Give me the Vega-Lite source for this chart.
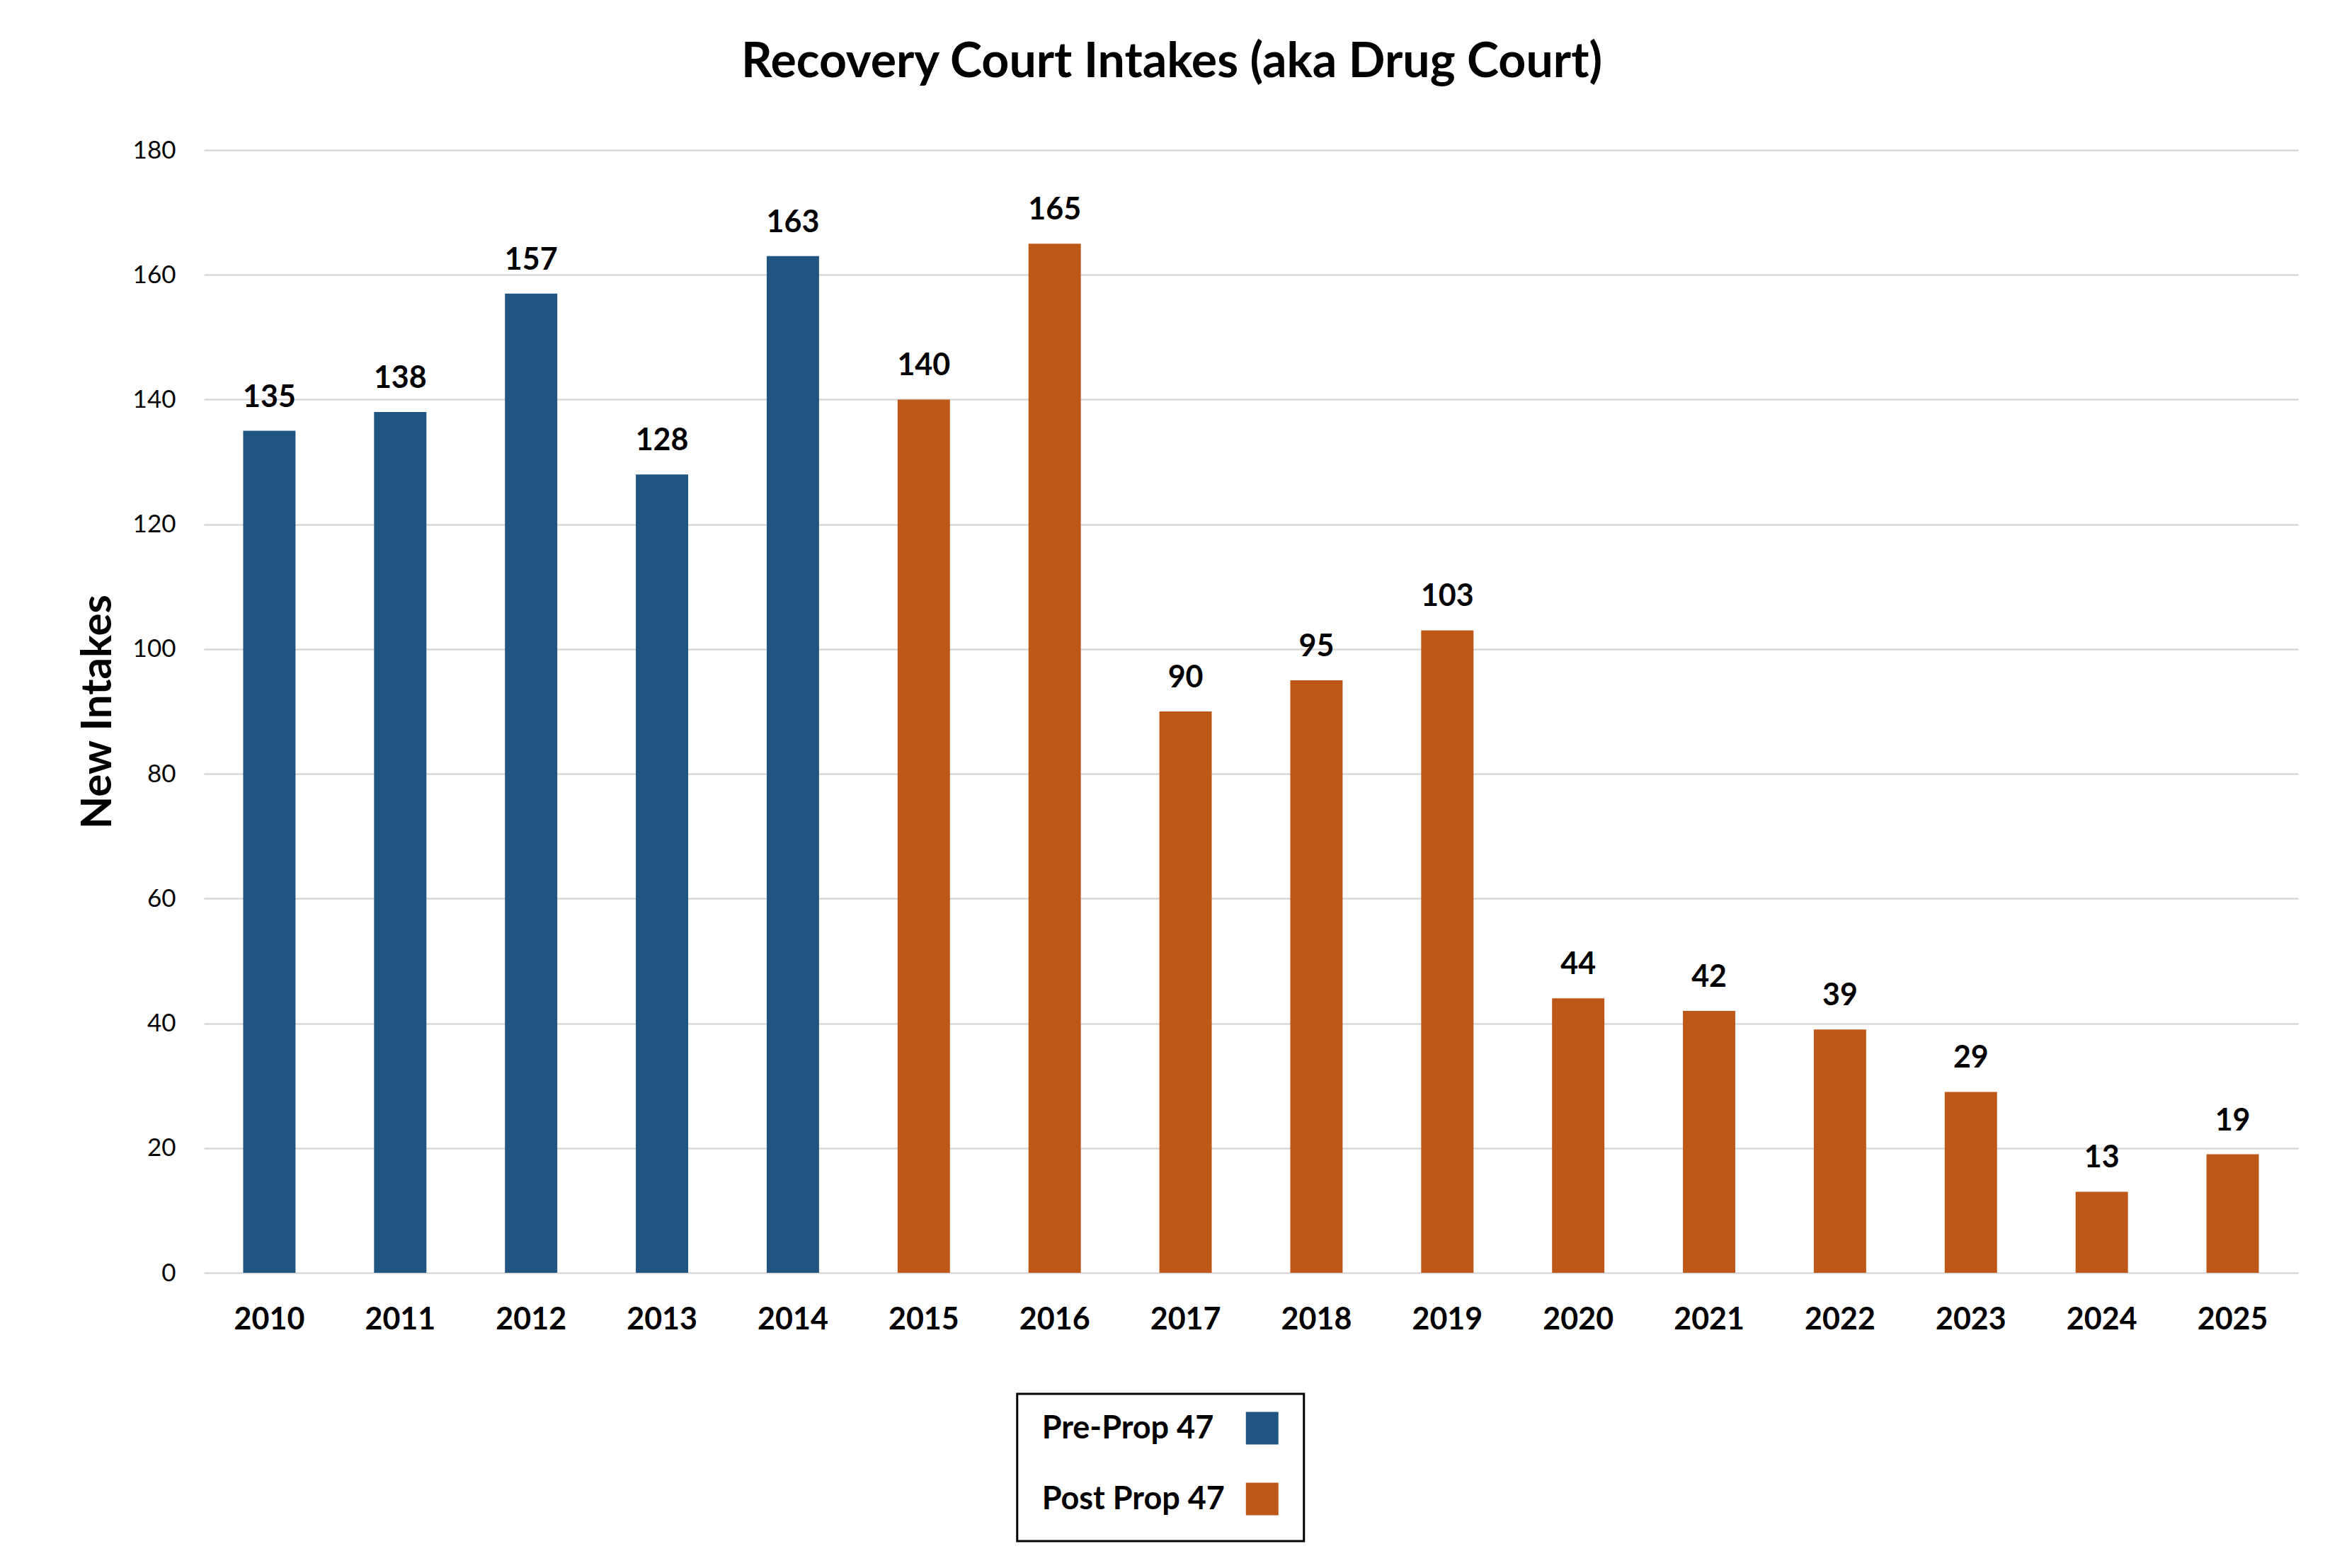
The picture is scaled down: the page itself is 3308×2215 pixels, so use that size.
{
  "$schema": "https://vega.github.io/schema/vega-lite/v6.json",
  "background": "white",
  "padding": {"left": 108, "right": 63, "top": 55, "bottom": 41},
  "title": {
    "text": "Recovery Court Intakes (aka Drug Court)",
    "font": "Lato",
    "fontSize": 68,
    "fontWeight": "bold",
    "color": "black",
    "anchor": "middle",
    "baseline": "alphabetic",
    "offset": 18,
    "dx": -22
  },
  "datasets": {
    "intakes": [
      {"year": "2010", "intakes": 135, "period": "Pre-Prop 47"},
      {"year": "2011", "intakes": 138, "period": "Pre-Prop 47"},
      {"year": "2012", "intakes": 157, "period": "Pre-Prop 47"},
      {"year": "2013", "intakes": 128, "period": "Pre-Prop 47"},
      {"year": "2014", "intakes": 163, "period": "Pre-Prop 47"},
      {"year": "2015", "intakes": 140, "period": "Post Prop 47"},
      {"year": "2016", "intakes": 165, "period": "Post Prop 47"},
      {"year": "2017", "intakes": 90, "period": "Post Prop 47"},
      {"year": "2018", "intakes": 95, "period": "Post Prop 47"},
      {"year": "2019", "intakes": 103, "period": "Post Prop 47"},
      {"year": "2020", "intakes": 44, "period": "Post Prop 47"},
      {"year": "2021", "intakes": 42, "period": "Post Prop 47"},
      {"year": "2022", "intakes": 39, "period": "Post Prop 47"},
      {"year": "2023", "intakes": 29, "period": "Post Prop 47"},
      {"year": "2024", "intakes": 13, "period": "Post Prop 47"},
      {"year": "2025", "intakes": 19, "period": "Post Prop 47"}
    ],
    "legend": [
      {"period": "Pre-Prop 47"},
      {"period": "Post Prop 47"}
    ]
  },
  "spacing": 81,
  "center": true,
  "vconcat": [
    {
      "width": 2958,
      "height": 1586,
      "data": {"name": "intakes"},
      "encoding": {
        "x": {
          "field": "year",
          "type": "ordinal",
          "scale": {"paddingInner": 0.6, "paddingOuter": 0.3},
          "axis": {
            "title": null,
            "domain": false,
            "ticks": false,
            "tickSize": 0,
            "labelAngle": 0,
            "labelFont": "Lato",
            "labelFontWeight": "bold",
            "labelFontSize": 43,
            "labelColor": "black",
            "labelBaseline": "alphabetic",
            "labelPadding": 79
          }
        },
        "y": {
          "field": "intakes",
          "type": "quantitative",
          "scale": {"domain": [0, 180]},
          "axis": {
            "title": "New Intakes",
            "values": [0, 20, 40, 60, 80, 100, 120, 140, 160, 180],
            "domain": false,
            "ticks": false,
            "tickSize": 0,
            "grid": true,
            "gridColor": "#D9D9D9",
            "gridWidth": 2.5,
            "labelFont": "Lato",
            "labelFontSize": 35,
            "labelColor": "black",
            "labelPadding": 40,
            "titleFont": "Lato",
            "titleFontWeight": "bold",
            "titleFontSize": 60,
            "titleColor": "black",
            "titlePadding": 18
          }
        },
        "color": {
          "field": "period",
          "type": "nominal",
          "scale": {
            "domain": ["Pre-Prop 47", "Post Prop 47"],
            "range": ["#215581", "#BE5819"]
          },
          "legend": null
        }
      },
      "layer": [
        {"mark": {"type": "bar"}},
        {
          "mark": {
            "type": "text",
            "baseline": "alphabetic",
            "dy": -34,
            "font": "Lato",
            "fontWeight": "bold",
            "fontSize": 43,
            "color": "black"
          },
          "encoding": {
            "text": {"field": "intakes", "type": "quantitative"},
            "color": {"value": "black"}
          }
        }
      ]
    },
    {
      "width": 405,
      "height": 208,
      "view": {"stroke": "black", "strokeWidth": 3},
      "data": {"name": "legend"},
      "encoding": {
        "y": {
          "field": "period",
          "type": "nominal",
          "scale": {
            "type": "point",
            "domain": ["Pre-Prop 47", "Post Prop 47"],
            "padding": 0.54,
            "align": 0.45
          },
          "axis": {
            "orient": "right",
            "offset": 254,
            "labels": false,
            "ticks": false,
            "grid": false,
            "title": null,
            "domain": true,
            "domainColor": "white"
          }
        }
      },
      "layer": [
        {
          "mark": {
            "type": "text",
            "align": "left",
            "baseline": "middle",
            "font": "Lato",
            "fontWeight": "bold",
            "fontSize": 45,
            "color": "black"
          },
          "encoding": {
            "x": {
              "datum": "label",
              "type": "nominal",
              "scale": {
                "type": "point",
                "domain": ["label", "swatch"],
                "padding": 0.151,
                "align": 0.372
              },
              "axis": null
            },
            "text": {"field": "period", "type": "nominal"}
          }
        },
        {
          "mark": {"type": "square", "size": 2116, "filled": true, "opacity": 1},
          "encoding": {
            "x": {"datum": "swatch", "type": "nominal"},
            "color": {"field": "period", "type": "nominal", "legend": null}
          }
        }
      ]
    }
  ],
  "config": {
    "view": {"stroke": null}
  }
}
